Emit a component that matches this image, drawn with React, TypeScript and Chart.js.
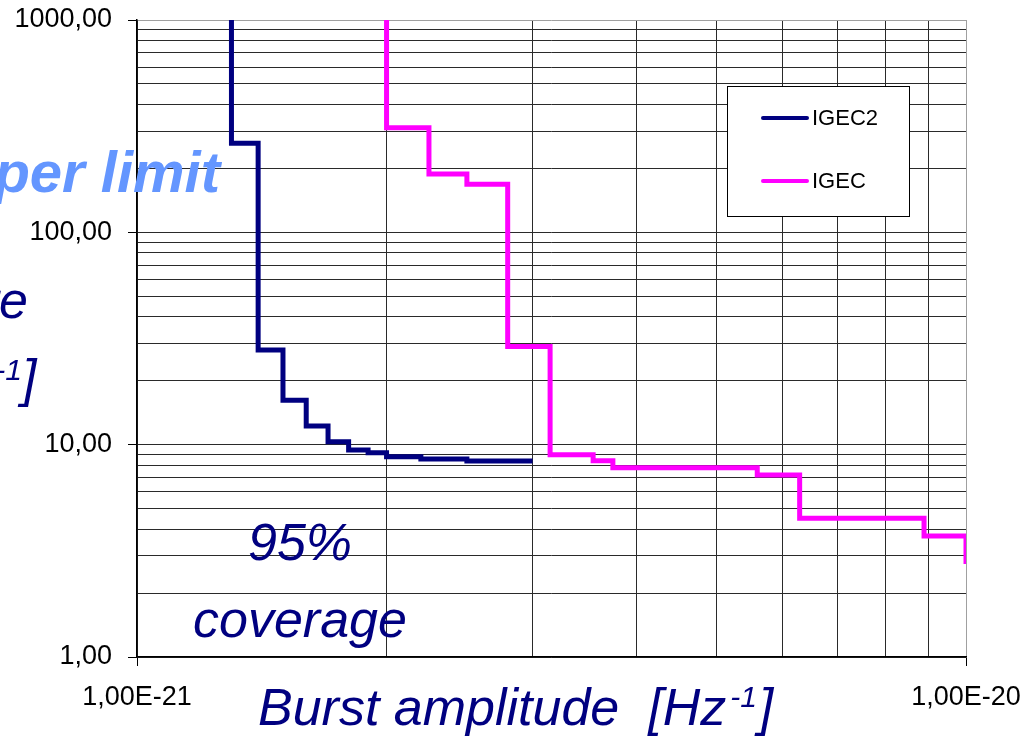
import React, { useEffect, useRef } from 'react';
import { Chart, registerables } from 'chart.js';

Chart.register(...registerables);

// ---- data ----
const seriesNames = ['IGEC2', 'IGEC'];
const seriesColors = ['#000080', '#ff00ff'];

// amplitude [Hz^-1] at which the upper limit steps down to the given rate
const igec2Amplitude = [1.3e-21, 1.3e-21, 1.4e-21, 1.5e-21, 1.6e-21, 1.7e-21, 1.8e-21, 1.9e-21, 2.0e-21, 2.2e-21, 2.5e-21, 3.0e-21];
const igec2Rate = [1000, 263, 27.9, 16.2, 12.25, 10.33, 9.44, 9.17, 8.78, 8.56, 8.38, 8.38];

const igecAmplitude = [2.0e-21, 2.0e-21, 2.25e-21, 2.5e-21, 2.8e-21, 3.15e-21, 3.55e-21, 3.75e-21, 5.6e-21, 6.3e-21, 8.9e-21, 1.0e-20];
const igecRate = [1000, 311, 188, 168.5, 29, 8.97, 8.41, 7.79, 7.2, 4.5, 3.71, 2.74];

const xTickValues = [1e-21, 2e-21, 3e-21, 4e-21, 5e-21, 6e-21, 7e-21, 8e-21, 9e-21, 1e-20];
const xMajorValues = [1e-21, 1e-20];
const xMajorLabels = ['1,00E-21', '1,00E-20'];

const yTickValues = [1, 2, 3, 4, 5, 6, 7, 8, 9, 10, 20, 30, 40, 50, 60, 70, 80, 90, 100, 200, 300, 400, 500, 600, 700, 800, 900, 1000];
const yMajorValues = [1, 10, 100, 1000];
const yMajorLabels = ['1,00', '10,00', '100,00', '1000,00'];

const xTitle = 'Burst amplitude  [Hz';
const xTitleSup = '-1';
const xTitleEnd = ']';
const blueTitle = 'Upper limit';
const navyTitleLine1 = 're';
const navyTitleSup = '-1';
const navyTitleEnd = ']';
const coverageLine1 = '95%';
const coverageLine2 = 'coverage';

const FONT = '"Liberation Sans", Arial, sans-serif';

function majorIndex(list: number[], v: number) {
  for (let i = 0; i < list.length; i++) {
    if (Math.abs(Math.log10(v) - Math.log10(list[i])) < 1e-6) return i;
  }
  return -1;
}

const overlayPlugin = {
  id: 'overlay',
  afterDraw(chart: any) {
    const ctx: CanvasRenderingContext2D = chart.ctx;
    ctx.save();

    // legend box
    const lx = 727.5, ly = 86.5, lw = 182, lh = 130;
    ctx.fillStyle = '#ffffff';
    ctx.fillRect(lx, ly, lw, lh);
    ctx.strokeStyle = '#000000';
    ctx.lineWidth = 1;
    ctx.strokeRect(lx, ly, lw, lh);
    const rowsY = [118, 181];
    seriesNames.forEach((name, i) => {
      ctx.strokeStyle = seriesColors[i];
      ctx.lineWidth = 4;
      ctx.lineCap = 'round';
      ctx.beginPath();
      ctx.moveTo(763, rowsY[i]);
      ctx.lineTo(807, rowsY[i]);
      ctx.stroke();
      ctx.fillStyle = '#000000';
      ctx.font = `22px ${FONT}`;
      ctx.textAlign = 'left';
      ctx.textBaseline = 'middle';
      ctx.fillText(name, 812, rowsY[i] + 1);
    });

    // light-blue title fragment
    ctx.textBaseline = 'alphabetic';
    ctx.fillStyle = '#6496ff';
    ctx.font = `bold italic 58px ${FONT}`;
    ctx.textAlign = 'right';
    ctx.fillText(blueTitle, 220, 192);

    // navy y-title fragments
    ctx.fillStyle = '#000080';
    ctx.font = `italic 52px ${FONT}`;
    ctx.textAlign = 'right';
    ctx.fillText(navyTitleLine1, 28, 318);
    ctx.font = `italic 30px ${FONT}`;
    ctx.fillText(navyTitleSup, 22, 380);
    ctx.font = `italic 52px ${FONT}`;
    ctx.textAlign = 'left';
    ctx.fillText(navyTitleEnd, 22, 396);

    // coverage annotation
    ctx.font = `italic 52px ${FONT}`;
    ctx.textAlign = 'left';
    ctx.fillText(coverageLine1, 248, 560);
    ctx.fillText(coverageLine2, 193, 637);

    // x-axis title
    ctx.font = `italic 52px ${FONT}`;
    const tx = 258;
    ctx.fillText(xTitle, tx, 725);
    const w1 = ctx.measureText(xTitle).width;
    ctx.font = `italic 30px ${FONT}`;
    ctx.fillText(xTitleSup, tx + w1 + 4, 707);
    const w2 = ctx.measureText(xTitleSup).width;
    ctx.font = `italic 52px ${FONT}`;
    ctx.fillText(xTitleEnd, tx + w1 + 4 + w2 + 2, 725);

    ctx.restore();
  },
};

export default function App() {
  const ref = useRef<HTMLCanvasElement | null>(null);

  useEffect(() => {
    if (!ref.current) return;
    const mk = (xs: number[], ys: number[]) => xs.map((x, i) => ({ x, y: ys[i] }));
    const chart = new Chart(ref.current, {
      type: 'line',
      data: {
        datasets: [
          {
            label: seriesNames[0],
            data: mk(igec2Amplitude, igec2Rate),
            borderColor: seriesColors[0],
            backgroundColor: seriesColors[0],
            borderWidth: 5,
            pointRadius: 0,
            stepped: 'before',
            borderJoinStyle: 'miter',
            borderCapStyle: 'butt',
            fill: false,
          },
          {
            label: seriesNames[1],
            data: mk(igecAmplitude, igecRate),
            borderColor: seriesColors[1],
            backgroundColor: seriesColors[1],
            borderWidth: 5,
            pointRadius: 0,
            stepped: 'before',
            borderJoinStyle: 'miter',
            borderCapStyle: 'butt',
            fill: false,
          },
        ],
      },
      options: {
        responsive: false,
        animation: false,
        devicePixelRatio: 1,
        layout: { padding: { left: 0, top: 20, right: 70, bottom: 0 } },
        plugins: {
          legend: { display: false },
          tooltip: { enabled: false },
          title: { display: false },
        },
        scales: {
          x: {
            type: 'logarithmic',
            min: 1e-21,
            max: 1e-20,
            afterBuildTicks: (s: any) => {
              s.ticks = xTickValues.map((v) => ({ value: v }));
            },
            afterFit: (s: any) => {
              s.height = 79;
              s.paddingLeft = 0;
              s.paddingRight = 0;
            },
            ticks: {
              autoSkip: false,
              maxRotation: 0,
              minRotation: 0,
              padding: 15,
              color: '#000',
              font: { family: FONT, size: 27 },
              callback: (v: any) => {
                const i = majorIndex(xMajorValues, Number(v));
                return i >= 0 ? xMajorLabels[i] : '';
              },
            },
            grid: {
              color: (c: any) => {
                const v = c.tick ? c.tick.value : 0;
                if (majorIndex([1e-20], v) >= 0) return '#a0a0a0';
                return '#2a2a2a';
              },
              lineWidth: 1,
              tickLength: 9,
              tickColor: (c: any) => (c.tick && majorIndex(xMajorValues, c.tick.value) >= 0 ? '#000' : 'rgba(0,0,0,0)'),
            },
            border: { display: true, color: '#000', width: 1.5 },
          },
          y: {
            type: 'logarithmic',
            min: 1,
            max: 1000,
            afterBuildTicks: (s: any) => {
              s.ticks = yTickValues.map((v) => ({ value: v }));
            },
            afterFit: (s: any) => {
              s.width = 137;
              s.paddingTop = 0;
              s.paddingBottom = 0;
            },
            ticks: {
              autoSkip: false,
              padding: 16,
              color: '#000',
              font: { family: FONT, size: 27 },
              callback: (v: any) => {
                const i = majorIndex(yMajorValues, Number(v));
                return i >= 0 ? yMajorLabels[i] : '';
              },
            },
            grid: {
              color: (c: any) => {
                const v = c.tick ? c.tick.value : 0;
                if (majorIndex([1000], v) >= 0) return '#a0a0a0';
                return '#2a2a2a';
              },
              lineWidth: 1,
              tickLength: 9,
              tickColor: (c: any) => (c.tick && majorIndex(yMajorValues, c.tick.value) >= 0 ? '#000' : 'rgba(0,0,0,0)'),
            },
            border: { display: true, color: '#000', width: 1.5 },
          },
        },
      },
      plugins: [overlayPlugin],
    });
    return () => chart.destroy();
  }, []);

  return (
    <div style={{ position: 'fixed', left: 0, top: 0, width: 1036, height: 736, background: '#fff' }}>
      <canvas ref={ref} width={1036} height={736} style={{ display: 'block', width: 1036, height: 736 }} />
    </div>
  );
}
